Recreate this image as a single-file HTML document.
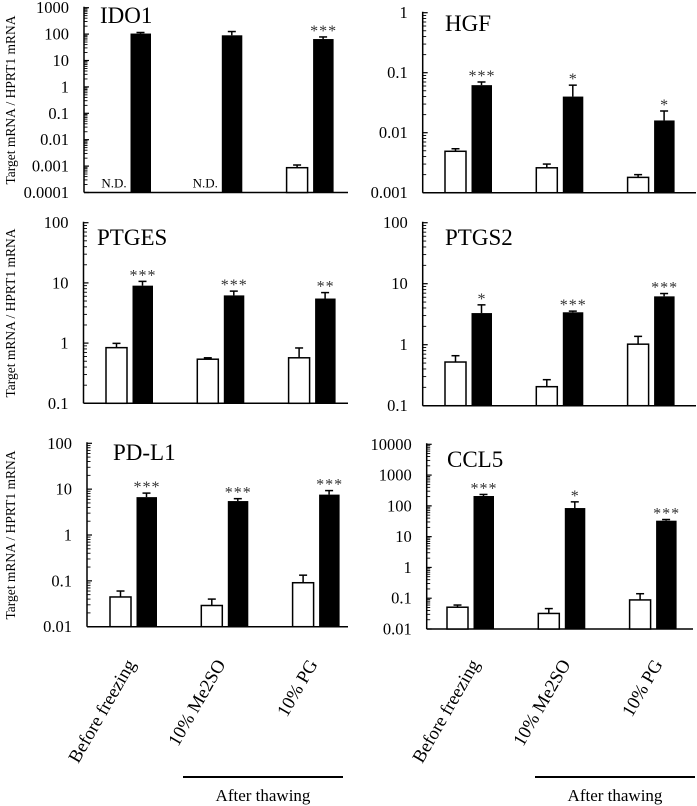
<!DOCTYPE html>
<html><head><meta charset="utf-8">
<style>
html,body{margin:0;padding:0;background:#fff;}
svg{display:block;font-family:"Liberation Serif",serif;}
</style></head>
<body>
<svg id="fig" width="697" height="806" viewBox="0 0 697 806" xmlns="http://www.w3.org/2000/svg"></svg>
<script>
// ---- data ----
const categories = ["Before freezing", "10% Me2SO", "10% PG"];
const ido1White = [null, null, 0.00087];
const ido1WhiteErr = [null, null, 0.0011];
const ido1Black = [105, 90, 65];
const ido1BlackErr = [115, 125, 78];
const ido1Stars = ["", "", "***"];

const hgfWhite = [0.0049, 0.0026, 0.0018];
const hgfWhiteErr = [0.0054, 0.0030, 0.0020];
const hgfBlack = [0.062, 0.040, 0.016];
const hgfBlackErr = [0.070, 0.062, 0.023];
const hgfStars = ["***", "*", "*"];

const ptgesWhite = [0.84, 0.54, 0.57];
const ptgesWhiteErr = [0.99, 0.57, 0.83];
const ptgesBlack = [9.0, 6.2, 5.5];
const ptgesBlackErr = [10.6, 7.3, 6.9];
const ptgesStars = ["***", "***", "**"];

const ptgs2White = [0.52, 0.205, 1.02];
const ptgs2WhiteErr = [0.66, 0.267, 1.37];
const ptgs2Black = [3.3, 3.4, 6.2];
const ptgs2BlackErr = [4.5, 3.55, 6.9];
const ptgs2Stars = ["*", "***", "***"];

const pdl1White = [0.0445, 0.029, 0.091];
const pdl1WhiteErr = [0.060, 0.040, 0.133];
const pdl1Black = [6.7, 5.5, 7.6];
const pdl1BlackErr = [8.2, 6.2, 9.3];
const pdl1Stars = ["***", "***", "***"];

const ccl5White = [0.051, 0.032, 0.088];
const ccl5WhiteErr = [0.060, 0.046, 0.140];
const ccl5Black = [209, 85, 33];
const ccl5BlackErr = [235, 135, 36];
const ccl5Stars = ["***", "*", "***"];

const ido1Ticks = ["0.0001","0.001","0.01","0.1","1","10","100","1000"];
const hgfTicks = ["0.001","0.01","0.1","1"];
const ptgesTicks = ["0.1","1","10","100"];
const ptgs2Ticks = ["0.1","1","10","100"];
const pdl1Ticks = ["0.01","0.1","1","10","100"];
const ccl5Ticks = ["0.01","0.1","1","10","100","1000","10000"];

// ---- drawing ----
const NS = "http://www.w3.org/2000/svg";
const svg = document.getElementById("fig");
function mk(tag, attrs, parent, text){
  const e = document.createElementNS(NS, tag);
  for (const k in attrs) e.setAttribute(k, attrs[k]);
  if (text !== undefined) e.textContent = text;
  (parent || svg).appendChild(e);
  return e;
}

function panel(cfg){
  const g = mk("g", {});
  
  
  const lo = Math.log10(parseFloat(cfg.ticks[0]));
  const hi = Math.log10(parseFloat(cfg.ticks[cfg.ticks.length-1]));
  const y = v => cfg.bottom - (Math.log10(v) - lo) / (hi - lo) * (cfg.bottom - cfg.top);
  const xBand = i => cfg.ax + cfg.off + i * 91.3;
  const yAxis = mk("line", {x1:cfg.ax, y1:cfg.top-1, x2:cfg.ax, y2:cfg.bottom, stroke:"#000","stroke-width":1.5}, g);
  
  
  const xAxis = mk("line", {x1:cfg.ax, y1:cfg.bottom, x2:cfg.right, y2:cfg.bottom, stroke:"#000","stroke-width":1.5}, g);
  
  
  for (let d = lo; d <= hi; d++){
    const yy = y(Math.pow(10, d));
    mk("line", {x1:cfg.ax, y1:yy, x2:cfg.ax+5, y2:yy, stroke:"#000","stroke-width":1.2}, g);
    if (d < hi){
      for (let m = 2; m <= 9; m++){
        const ym = y(m * Math.pow(10, d));
        mk("line", {x1:cfg.ax, y1:ym, x2:cfg.ax+3.5, y2:ym, stroke:"#000","stroke-width":0.9}, g);
      }
    }
  }
  cfg.ticks.forEach(t => {
    const tl = mk("text", {x:cfg.ax-15, y:y(parseFloat(t))+5.5, "text-anchor":"end","font-size":16.5}, g, t);
    
    
  });
  const tt = mk("text", {x:cfg.tx, y:cfg.ty, "font-size":23}, g, cfg.title);
  
  
  for (let i = 0; i < categories.length; i++){
    const xw = xBand(i), xb = xw + 26.5;
    if (cfg.white[i] !== null){
      const top = y(cfg.white[i]);
      const eTop = y(cfg.whiteErr[i]);
      mk("line", {x1:xw+10.5, y1:top, x2:xw+10.5, y2:eTop, stroke:"#000","stroke-width":1.5}, g);
      mk("line", {x1:xw+6.5, y1:eTop, x2:xw+14.5, y2:eTop, stroke:"#000","stroke-width":1.5}, g);
      const r = mk("rect", {x:xw, y:top, width:21, height:cfg.bottom-top, fill:"#fff", stroke:"#000","stroke-width":1.5}, g);
      
      
    } else {
      const nd = mk("text", {x:xw+10, y:cfg.bottom-5, "text-anchor":"middle","font-size":13}, g, "N.D.");
      
      
    }
    const btop = y(cfg.black[i]);
    const beTop = y(cfg.blackErr[i]);
    mk("line", {x1:xb+10, y1:btop, x2:xb+10, y2:beTop, stroke:"#000","stroke-width":1.5}, g);
    mk("line", {x1:xb+6, y1:beTop, x2:xb+14, y2:beTop, stroke:"#000","stroke-width":1.5}, g);
    const rb = mk("rect", {x:xb, y:btop, width:20.5, height:cfg.bottom-btop, fill:"#000"}, g);
    
    
    if (cfg.stars[i]){
      const st = mk("text", {x:xb+10.5, y:beTop-1, "text-anchor":"middle","font-size":16, fill:"#333", "letter-spacing":"1"}, g, cfg.stars[i]);
      
      
    }
  }
}

panel({name:"ido1", title:"IDO1", ax:84, top:7.7, bottom:192.5, right:348, off:20, tx:100, ty:23, ticks:ido1Ticks,
  white:ido1White, whiteErr:ido1WhiteErr, black:ido1Black, blackErr:ido1BlackErr, stars:ido1Stars});
panel({name:"hgf", title:"HGF", ax:422.7, top:12.7, bottom:192.7, right:696, off:22.3, tx:445, ty:31, ticks:hgfTicks,
  white:hgfWhite, whiteErr:hgfWhiteErr, black:hgfBlack, blackErr:hgfBlackErr, stars:hgfStars});
panel({name:"ptges", title:"PTGES", ax:83.5, top:222.7, bottom:403.3, right:348, off:22.5, tx:97, ty:245, ticks:ptgesTicks,
  white:ptgesWhite, whiteErr:ptgesWhiteErr, black:ptgesBlack, blackErr:ptgesBlackErr, stars:ptgesStars});
panel({name:"ptgs2", title:"PTGS2", ax:422.7, top:222.7, bottom:405.7, right:696, off:22.3, tx:445, ty:245, ticks:ptgs2Ticks,
  white:ptgs2White, whiteErr:ptgs2WhiteErr, black:ptgs2Black, blackErr:ptgs2BlackErr, stars:ptgs2Stars});
panel({name:"pdl1", title:"PD-L1", ax:87, top:443.3, bottom:626.7, right:348, off:23, tx:113, ty:460, ticks:pdl1Ticks,
  white:pdl1White, whiteErr:pdl1WhiteErr, black:pdl1Black, blackErr:pdl1BlackErr, stars:pdl1Stars});
panel({name:"ccl5", title:"CCL5", ax:426.7, top:444.3, bottom:629, right:693, off:20.3, tx:447, ty:467, ticks:ccl5Ticks,
  white:ccl5White, whiteErr:ccl5WhiteErr, black:ccl5Black, blackErr:ccl5BlackErr, stars:ccl5Stars});

[100, 313, 535].forEach((cy, i) => {
  const t = mk("text", {x:0, y:0, transform:`translate(15,${cy}) rotate(-90)`, "text-anchor":"middle","font-size":13.5}, svg, "Target mRNA / HPRT1 mRNA");
  
  
});

const labelAnchors = [[136,664],[226,664],[318,664],[480,664],[571,664],[663,664]];
labelAnchors.forEach((p, i) => {
  const t = mk("text", {x:0, y:0, transform:`translate(${p[0]},${p[1]}) rotate(-60)`, "text-anchor":"end","font-size":18.5}, svg, categories[i % 3]);
  
  
});

[[183,343],[535,695]].forEach(s => {
  const l = mk("line", {x1:s[0], y1:777, x2:s[1], y2:777, stroke:"#000","stroke-width":2});
  
  
  const t = mk("text", {x:(s[0]+s[1])/2, y:801, "text-anchor":"middle","font-size":17}, svg, "After thawing");
  
  
});
</script>
</body></html>
